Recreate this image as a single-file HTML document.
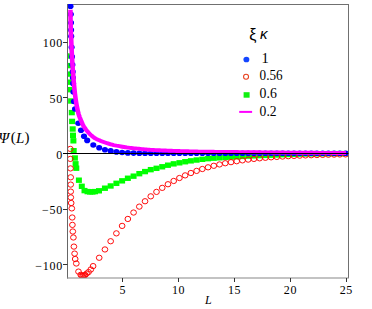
<!DOCTYPE html>
<html><head><meta charset="utf-8"><style>
html,body{margin:0;padding:0;background:#fff;width:372px;height:309px;overflow:hidden;}
svg{display:block;font-family:"Liberation Serif",serif;}
</style></head><body>
<svg width="372" height="309" viewBox="0 0 372 309">
<defs><clipPath id="c"><rect x="68" y="4" width="280.5" height="274"/></clipPath></defs>
<path d="M67.5 4.5H348.5V278" stroke="#707070" fill="none"/>
<g clip-path="url(#c)">
<rect x="67.6" y="53.3" width="6" height="5.4" fill="#00ff00"/>
<rect x="67.6" y="62.9" width="6" height="5.4" fill="#00ff00"/>
<rect x="67.7" y="71.4" width="6" height="5.4" fill="#00ff00"/>
<rect x="67.8" y="79.5" width="6" height="5.4" fill="#00ff00"/>
<rect x="67.9" y="87" width="6" height="5.4" fill="#00ff00"/>
<rect x="68.1" y="98.3" width="6" height="5.4" fill="#00ff00"/>
<rect x="68.8" y="109.9" width="6" height="5.4" fill="#00ff00"/>
<rect x="69.1" y="118.7" width="6" height="5.4" fill="#00ff00"/>
<rect x="69.7" y="126.3" width="6" height="5.4" fill="#00ff00"/>
<rect x="70" y="132.6" width="6" height="5.4" fill="#00ff00"/>
<rect x="70.4" y="138.1" width="6" height="5.4" fill="#00ff00"/>
<rect x="70.7" y="148" width="6" height="5.4" fill="#00ff00"/>
<rect x="71.9" y="155.3" width="6" height="5.4" fill="#00ff00"/>
<rect x="72.6" y="161.1" width="6" height="5.4" fill="#00ff00"/>
<rect x="73.3" y="165.5" width="6" height="5.4" fill="#00ff00"/>
<rect x="75.9" y="177.5" width="6" height="5.4" fill="#00ff00"/>
<rect x="78.8" y="183.6" width="6" height="5.4" fill="#00ff00"/>
<rect x="81.5" y="187.9" width="6" height="5.4" fill="#00ff00"/>
<rect x="84.5" y="188.9" width="6" height="5.4" fill="#00ff00"/>
<rect x="87" y="189.2" width="6" height="5.4" fill="#00ff00"/>
<rect x="89.5" y="189.2" width="6" height="5.4" fill="#00ff00"/>
<rect x="92" y="188.9" width="6" height="5.4" fill="#00ff00"/>
<rect x="96" y="188.1" width="6" height="5.4" fill="#00ff00"/>
<rect x="101.93" y="185.51" width="6" height="5.4" fill="#00ff00"/>
<rect x="107.66" y="183.27" width="6" height="5.4" fill="#00ff00"/>
<rect x="113.39" y="180.62" width="6" height="5.4" fill="#00ff00"/>
<rect x="119.12" y="178.14" width="6" height="5.4" fill="#00ff00"/>
<rect x="124.85" y="175.56" width="6" height="5.4" fill="#00ff00"/>
<rect x="130.58" y="173.47" width="6" height="5.4" fill="#00ff00"/>
<rect x="136.31" y="170.98" width="6" height="5.4" fill="#00ff00"/>
<rect x="142.04" y="168.89" width="6" height="5.4" fill="#00ff00"/>
<rect x="147.77" y="166.96" width="6" height="5.4" fill="#00ff00"/>
<rect x="153.5" y="165.62" width="6" height="5.4" fill="#00ff00"/>
<rect x="159.23" y="164.07" width="6" height="5.4" fill="#00ff00"/>
<rect x="164.96" y="162.51" width="6" height="5.4" fill="#00ff00"/>
<rect x="170.69" y="161.16" width="6" height="5.4" fill="#00ff00"/>
<rect x="176.42" y="160.11" width="6" height="5.4" fill="#00ff00"/>
<rect x="182.15" y="159.04" width="6" height="5.4" fill="#00ff00"/>
<rect x="187.88" y="158.15" width="6" height="5.4" fill="#00ff00"/>
<rect x="193.61" y="157.33" width="6" height="5.4" fill="#00ff00"/>
<rect x="199.34" y="156.6" width="6" height="5.4" fill="#00ff00"/>
<rect x="205.07" y="155.97" width="6" height="5.4" fill="#00ff00"/>
<rect x="210.8" y="155.47" width="6" height="5.4" fill="#00ff00"/>
<rect x="216.53" y="155.08" width="6" height="5.4" fill="#00ff00"/>
<rect x="222.26" y="154.73" width="6" height="5.4" fill="#00ff00"/>
<rect x="227.99" y="154.37" width="6" height="5.4" fill="#00ff00"/>
<rect x="233.72" y="154.01" width="6" height="5.4" fill="#00ff00"/>
<rect x="239.45" y="153.68" width="6" height="5.4" fill="#00ff00"/>
<rect x="245.18" y="153.4" width="6" height="5.4" fill="#00ff00"/>
<rect x="250.91" y="153.14" width="6" height="5.4" fill="#00ff00"/>
<rect x="256.64" y="152.9" width="6" height="5.4" fill="#00ff00"/>
<rect x="262.37" y="152.68" width="6" height="5.4" fill="#00ff00"/>
<rect x="268.1" y="152.46" width="6" height="5.4" fill="#00ff00"/>
<rect x="273.83" y="152.23" width="6" height="5.4" fill="#00ff00"/>
<rect x="279.56" y="152" width="6" height="5.4" fill="#00ff00"/>
<rect x="285.29" y="151.77" width="6" height="5.4" fill="#00ff00"/>
<rect x="291.02" y="151.57" width="6" height="5.4" fill="#00ff00"/>
<rect x="296.75" y="151.41" width="6" height="5.4" fill="#00ff00"/>
<rect x="302.48" y="151.29" width="6" height="5.4" fill="#00ff00"/>
<rect x="308.21" y="151.2" width="6" height="5.4" fill="#00ff00"/>
<rect x="313.94" y="151.12" width="6" height="5.4" fill="#00ff00"/>
<rect x="319.67" y="151.05" width="6" height="5.4" fill="#00ff00"/>
<rect x="325.4" y="150.99" width="6" height="5.4" fill="#00ff00"/>
<rect x="331.13" y="150.94" width="6" height="5.4" fill="#00ff00"/>
<rect x="336.86" y="150.91" width="6" height="5.4" fill="#00ff00"/>
<rect x="342.59" y="150.9" width="6" height="5.4" fill="#00ff00"/>
<ellipse cx="70.3" cy="148.9" rx="2.85" ry="2.65" fill="none" stroke="#ff0000" stroke-width="0.95"/>
<ellipse cx="70.3" cy="158.9" rx="2.85" ry="2.65" fill="none" stroke="#ff0000" stroke-width="0.95"/>
<ellipse cx="70.5" cy="168.4" rx="2.85" ry="2.65" fill="none" stroke="#ff0000" stroke-width="0.95"/>
<ellipse cx="70.7" cy="177.3" rx="2.85" ry="2.65" fill="none" stroke="#ff0000" stroke-width="0.95"/>
<ellipse cx="70.7" cy="184.6" rx="2.85" ry="2.65" fill="none" stroke="#ff0000" stroke-width="0.95"/>
<ellipse cx="70.7" cy="191.6" rx="2.85" ry="2.65" fill="none" stroke="#ff0000" stroke-width="0.95"/>
<ellipse cx="70.8" cy="197.4" rx="2.85" ry="2.65" fill="none" stroke="#ff0000" stroke-width="0.95"/>
<ellipse cx="71.2" cy="203" rx="2.85" ry="2.65" fill="none" stroke="#ff0000" stroke-width="0.95"/>
<ellipse cx="71.8" cy="208.4" rx="2.85" ry="2.65" fill="none" stroke="#ff0000" stroke-width="0.95"/>
<ellipse cx="72.2" cy="217.5" rx="2.85" ry="2.65" fill="none" stroke="#ff0000" stroke-width="0.95"/>
<ellipse cx="72.4" cy="224.9" rx="2.85" ry="2.65" fill="none" stroke="#ff0000" stroke-width="0.95"/>
<ellipse cx="72.8" cy="231.5" rx="2.85" ry="2.65" fill="none" stroke="#ff0000" stroke-width="0.95"/>
<ellipse cx="73.4" cy="237.5" rx="2.85" ry="2.65" fill="none" stroke="#ff0000" stroke-width="0.95"/>
<ellipse cx="73.9" cy="246.6" rx="2.85" ry="2.65" fill="none" stroke="#ff0000" stroke-width="0.95"/>
<ellipse cx="74.6" cy="253.6" rx="2.85" ry="2.65" fill="none" stroke="#ff0000" stroke-width="0.95"/>
<ellipse cx="75.2" cy="259" rx="2.85" ry="2.65" fill="none" stroke="#ff0000" stroke-width="0.95"/>
<ellipse cx="76.3" cy="263.5" rx="2.85" ry="2.65" fill="none" stroke="#ff0000" stroke-width="0.95"/>
<ellipse cx="78.5" cy="271.6" rx="2.85" ry="2.65" fill="none" stroke="#ff0000" stroke-width="0.95"/>
<ellipse cx="80.7" cy="274.8" rx="2.85" ry="2.65" fill="none" stroke="#ff0000" stroke-width="0.95"/>
<ellipse cx="81.7" cy="275.6" rx="2.85" ry="2.65" fill="none" stroke="#ff0000" stroke-width="0.95"/>
<ellipse cx="82.9" cy="275.9" rx="2.85" ry="2.65" fill="none" stroke="#ff0000" stroke-width="0.95"/>
<ellipse cx="84.1" cy="275.6" rx="2.85" ry="2.65" fill="none" stroke="#ff0000" stroke-width="0.95"/>
<ellipse cx="85.2" cy="274.9" rx="2.85" ry="2.65" fill="none" stroke="#ff0000" stroke-width="0.95"/>
<ellipse cx="86.6" cy="273.6" rx="2.85" ry="2.65" fill="none" stroke="#ff0000" stroke-width="0.95"/>
<ellipse cx="88.5" cy="272.1" rx="2.85" ry="2.65" fill="none" stroke="#ff0000" stroke-width="0.95"/>
<ellipse cx="90.8" cy="269.5" rx="2.85" ry="2.65" fill="none" stroke="#ff0000" stroke-width="0.95"/>
<ellipse cx="93.1" cy="266.1" rx="2.85" ry="2.65" fill="none" stroke="#ff0000" stroke-width="0.95"/>
<ellipse cx="99.2" cy="257.77" rx="2.85" ry="2.65" fill="none" stroke="#ff0000" stroke-width="0.95"/>
<ellipse cx="104.93" cy="249.45" rx="2.85" ry="2.65" fill="none" stroke="#ff0000" stroke-width="0.95"/>
<ellipse cx="110.66" cy="241.23" rx="2.85" ry="2.65" fill="none" stroke="#ff0000" stroke-width="0.95"/>
<ellipse cx="116.39" cy="233.35" rx="2.85" ry="2.65" fill="none" stroke="#ff0000" stroke-width="0.95"/>
<ellipse cx="122.12" cy="225.9" rx="2.85" ry="2.65" fill="none" stroke="#ff0000" stroke-width="0.95"/>
<ellipse cx="127.85" cy="218.95" rx="2.85" ry="2.65" fill="none" stroke="#ff0000" stroke-width="0.95"/>
<ellipse cx="133.58" cy="212.53" rx="2.85" ry="2.65" fill="none" stroke="#ff0000" stroke-width="0.95"/>
<ellipse cx="139.31" cy="206.63" rx="2.85" ry="2.65" fill="none" stroke="#ff0000" stroke-width="0.95"/>
<ellipse cx="145.04" cy="201.24" rx="2.85" ry="2.65" fill="none" stroke="#ff0000" stroke-width="0.95"/>
<ellipse cx="150.77" cy="196.34" rx="2.85" ry="2.65" fill="none" stroke="#ff0000" stroke-width="0.95"/>
<ellipse cx="156.5" cy="191.89" rx="2.85" ry="2.65" fill="none" stroke="#ff0000" stroke-width="0.95"/>
<ellipse cx="162.23" cy="187.86" rx="2.85" ry="2.65" fill="none" stroke="#ff0000" stroke-width="0.95"/>
<ellipse cx="167.96" cy="184.23" rx="2.85" ry="2.65" fill="none" stroke="#ff0000" stroke-width="0.95"/>
<ellipse cx="173.69" cy="180.96" rx="2.85" ry="2.65" fill="none" stroke="#ff0000" stroke-width="0.95"/>
<ellipse cx="179.42" cy="178.02" rx="2.85" ry="2.65" fill="none" stroke="#ff0000" stroke-width="0.95"/>
<ellipse cx="185.15" cy="175.38" rx="2.85" ry="2.65" fill="none" stroke="#ff0000" stroke-width="0.95"/>
<ellipse cx="190.88" cy="173.01" rx="2.85" ry="2.65" fill="none" stroke="#ff0000" stroke-width="0.95"/>
<ellipse cx="196.61" cy="170.9" rx="2.85" ry="2.65" fill="none" stroke="#ff0000" stroke-width="0.95"/>
<ellipse cx="202.34" cy="169" rx="2.85" ry="2.65" fill="none" stroke="#ff0000" stroke-width="0.95"/>
<ellipse cx="208.07" cy="167.31" rx="2.85" ry="2.65" fill="none" stroke="#ff0000" stroke-width="0.95"/>
<ellipse cx="213.8" cy="165.79" rx="2.85" ry="2.65" fill="none" stroke="#ff0000" stroke-width="0.95"/>
<ellipse cx="219.53" cy="164.44" rx="2.85" ry="2.65" fill="none" stroke="#ff0000" stroke-width="0.95"/>
<ellipse cx="225.26" cy="163.24" rx="2.85" ry="2.65" fill="none" stroke="#ff0000" stroke-width="0.95"/>
<ellipse cx="230.99" cy="162.17" rx="2.85" ry="2.65" fill="none" stroke="#ff0000" stroke-width="0.95"/>
<ellipse cx="236.72" cy="161.21" rx="2.85" ry="2.65" fill="none" stroke="#ff0000" stroke-width="0.95"/>
<ellipse cx="242.45" cy="160.36" rx="2.85" ry="2.65" fill="none" stroke="#ff0000" stroke-width="0.95"/>
<ellipse cx="248.18" cy="159.6" rx="2.85" ry="2.65" fill="none" stroke="#ff0000" stroke-width="0.95"/>
<ellipse cx="253.91" cy="158.93" rx="2.85" ry="2.65" fill="none" stroke="#ff0000" stroke-width="0.95"/>
<ellipse cx="259.64" cy="158.33" rx="2.85" ry="2.65" fill="none" stroke="#ff0000" stroke-width="0.95"/>
<ellipse cx="265.37" cy="157.8" rx="2.85" ry="2.65" fill="none" stroke="#ff0000" stroke-width="0.95"/>
<ellipse cx="271.1" cy="157.32" rx="2.85" ry="2.65" fill="none" stroke="#ff0000" stroke-width="0.95"/>
<ellipse cx="276.83" cy="156.91" rx="2.85" ry="2.65" fill="none" stroke="#ff0000" stroke-width="0.95"/>
<ellipse cx="282.56" cy="156.53" rx="2.85" ry="2.65" fill="none" stroke="#ff0000" stroke-width="0.95"/>
<ellipse cx="288.29" cy="156.2" rx="2.85" ry="2.65" fill="none" stroke="#ff0000" stroke-width="0.95"/>
<ellipse cx="294.02" cy="155.91" rx="2.85" ry="2.65" fill="none" stroke="#ff0000" stroke-width="0.95"/>
<ellipse cx="299.75" cy="155.65" rx="2.85" ry="2.65" fill="none" stroke="#ff0000" stroke-width="0.95"/>
<ellipse cx="305.48" cy="155.42" rx="2.85" ry="2.65" fill="none" stroke="#ff0000" stroke-width="0.95"/>
<ellipse cx="311.21" cy="155.21" rx="2.85" ry="2.65" fill="none" stroke="#ff0000" stroke-width="0.95"/>
<ellipse cx="316.94" cy="155.03" rx="2.85" ry="2.65" fill="none" stroke="#ff0000" stroke-width="0.95"/>
<ellipse cx="322.67" cy="154.87" rx="2.85" ry="2.65" fill="none" stroke="#ff0000" stroke-width="0.95"/>
<ellipse cx="328.4" cy="154.73" rx="2.85" ry="2.65" fill="none" stroke="#ff0000" stroke-width="0.95"/>
<ellipse cx="334.13" cy="154.6" rx="2.85" ry="2.65" fill="none" stroke="#ff0000" stroke-width="0.95"/>
<ellipse cx="339.86" cy="154.49" rx="2.85" ry="2.65" fill="none" stroke="#ff0000" stroke-width="0.95"/>
<ellipse cx="345.59" cy="154.39" rx="2.85" ry="2.65" fill="none" stroke="#ff0000" stroke-width="0.95"/>
<ellipse cx="70.5" cy="6.3" rx="3.05" ry="2.8" fill="#0000ff"/>
<ellipse cx="70.8" cy="14.3" rx="3.05" ry="2.8" fill="#0000ff"/>
<ellipse cx="71" cy="22.8" rx="3.05" ry="2.8" fill="#0000ff"/>
<ellipse cx="71.1" cy="30.1" rx="3.05" ry="2.8" fill="#0000ff"/>
<ellipse cx="71.2" cy="36.2" rx="3.05" ry="2.8" fill="#0000ff"/>
<ellipse cx="71.6" cy="47.3" rx="3.05" ry="2.8" fill="#0000ff"/>
<ellipse cx="72" cy="56.8" rx="3.05" ry="2.8" fill="#0000ff"/>
<ellipse cx="72.4" cy="64.8" rx="3.05" ry="2.8" fill="#0000ff"/>
<ellipse cx="72.7" cy="71.7" rx="3.05" ry="2.8" fill="#0000ff"/>
<ellipse cx="72.9" cy="77.8" rx="3.05" ry="2.8" fill="#0000ff"/>
<ellipse cx="73.1" cy="83.4" rx="3.05" ry="2.8" fill="#0000ff"/>
<ellipse cx="73.4" cy="92" rx="3.05" ry="2.8" fill="#0000ff"/>
<ellipse cx="73.9" cy="101.5" rx="3.05" ry="2.8" fill="#0000ff"/>
<ellipse cx="75" cy="109" rx="3.05" ry="2.8" fill="#0000ff"/>
<ellipse cx="78.3" cy="123.2" rx="3.05" ry="2.8" fill="#0000ff"/>
<ellipse cx="81" cy="130.3" rx="3.05" ry="2.8" fill="#0000ff"/>
<ellipse cx="84" cy="136.3" rx="3.05" ry="2.8" fill="#0000ff"/>
<ellipse cx="87.2" cy="140.4" rx="3.05" ry="2.8" fill="#0000ff"/>
<ellipse cx="93.3" cy="145" rx="3.05" ry="2.8" fill="#0000ff"/>
<ellipse cx="99.2" cy="147.7" rx="3.05" ry="2.8" fill="#0000ff"/>
<ellipse cx="104.93" cy="149.7" rx="3.05" ry="2.8" fill="#0000ff"/>
<ellipse cx="110.66" cy="150.9" rx="3.05" ry="2.8" fill="#0000ff"/>
<ellipse cx="116.39" cy="151.9" rx="3.05" ry="2.8" fill="#0000ff"/>
<ellipse cx="122.12" cy="152.5" rx="3.05" ry="2.8" fill="#0000ff"/>
<ellipse cx="127.85" cy="152.9" rx="3.05" ry="2.8" fill="#0000ff"/>
<ellipse cx="133.58" cy="153.1" rx="3.05" ry="2.8" fill="#0000ff"/>
<ellipse cx="139.31" cy="153.2" rx="3.05" ry="2.8" fill="#0000ff"/>
<ellipse cx="145.04" cy="153.2" rx="3.05" ry="2.8" fill="#0000ff"/>
<ellipse cx="150.77" cy="153.2" rx="3.05" ry="2.8" fill="#0000ff"/>
<ellipse cx="156.5" cy="153.2" rx="3.05" ry="2.8" fill="#0000ff"/>
<ellipse cx="162.23" cy="153.2" rx="3.05" ry="2.8" fill="#0000ff"/>
<ellipse cx="167.96" cy="153.2" rx="3.05" ry="2.8" fill="#0000ff"/>
<ellipse cx="173.69" cy="153.2" rx="3.05" ry="2.8" fill="#0000ff"/>
<ellipse cx="179.42" cy="153.2" rx="3.05" ry="2.8" fill="#0000ff"/>
<ellipse cx="185.15" cy="153.2" rx="3.05" ry="2.8" fill="#0000ff"/>
<ellipse cx="190.88" cy="153.2" rx="3.05" ry="2.8" fill="#0000ff"/>
<ellipse cx="196.61" cy="153.2" rx="3.05" ry="2.8" fill="#0000ff"/>
<ellipse cx="202.34" cy="153.2" rx="3.05" ry="2.8" fill="#0000ff"/>
<ellipse cx="208.07" cy="153.2" rx="3.05" ry="2.8" fill="#0000ff"/>
<ellipse cx="213.8" cy="153.2" rx="3.05" ry="2.8" fill="#0000ff"/>
<ellipse cx="219.53" cy="153.2" rx="3.05" ry="2.8" fill="#0000ff"/>
<ellipse cx="225.26" cy="153.2" rx="3.05" ry="2.8" fill="#0000ff"/>
<ellipse cx="230.99" cy="153.2" rx="3.05" ry="2.8" fill="#0000ff"/>
<ellipse cx="236.72" cy="153.2" rx="3.05" ry="2.8" fill="#0000ff"/>
<ellipse cx="242.45" cy="153.2" rx="3.05" ry="2.8" fill="#0000ff"/>
<ellipse cx="248.18" cy="153.2" rx="3.05" ry="2.8" fill="#0000ff"/>
<ellipse cx="253.91" cy="153.2" rx="3.05" ry="2.8" fill="#0000ff"/>
<ellipse cx="259.64" cy="153.2" rx="3.05" ry="2.8" fill="#0000ff"/>
<ellipse cx="265.37" cy="153.2" rx="3.05" ry="2.8" fill="#0000ff"/>
<ellipse cx="271.1" cy="153.2" rx="3.05" ry="2.8" fill="#0000ff"/>
<ellipse cx="276.83" cy="153.2" rx="3.05" ry="2.8" fill="#0000ff"/>
<ellipse cx="282.56" cy="153.2" rx="3.05" ry="2.8" fill="#0000ff"/>
<ellipse cx="288.29" cy="153.2" rx="3.05" ry="2.8" fill="#0000ff"/>
<ellipse cx="294.02" cy="153.2" rx="3.05" ry="2.8" fill="#0000ff"/>
<ellipse cx="299.75" cy="153.2" rx="3.05" ry="2.8" fill="#0000ff"/>
<ellipse cx="305.48" cy="153.2" rx="3.05" ry="2.8" fill="#0000ff"/>
<ellipse cx="311.21" cy="153.2" rx="3.05" ry="2.8" fill="#0000ff"/>
<ellipse cx="316.94" cy="153.2" rx="3.05" ry="2.8" fill="#0000ff"/>
<ellipse cx="322.67" cy="153.2" rx="3.05" ry="2.8" fill="#0000ff"/>
<ellipse cx="328.4" cy="153.2" rx="3.05" ry="2.8" fill="#0000ff"/>
<ellipse cx="334.13" cy="153.2" rx="3.05" ry="2.8" fill="#0000ff"/>
<ellipse cx="339.86" cy="153.2" rx="3.05" ry="2.8" fill="#0000ff"/>
<ellipse cx="345.59" cy="153.2" rx="3.05" ry="2.8" fill="#0000ff"/>
<g transform="scale(1.17,1)"><polyline fill="none" stroke="#ff00ff" stroke-width="3.9" stroke-linejoin="round" stroke-linecap="butt" points="60.21,9.7 60.22,11.2 60.23,12.7 60.24,14.2 60.25,15.7 60.27,17.2 60.29,18.7 60.31,20.2 60.34,21.7 60.36,23.2 60.4,24.7 60.43,26.2 60.46,27.7 60.5,29.2 60.55,30.7 60.6,32.19 60.65,33.69 60.71,35.19 60.77,36.69 60.83,38.19 60.89,39.69 60.94,41.19 60.99,42.68 61.04,44.18 61.09,45.68 61.14,47.18 61.19,48.68 61.25,50.18 61.31,51.68 61.37,53.17 61.44,54.67 61.51,56.17 61.58,57.67 61.65,59.17 61.73,60.66 61.8,62.16 61.88,63.66 61.97,65.15 62.06,66.65 62.15,68.15 62.24,69.64 62.34,71.14 62.43,72.63 62.53,74.13 62.63,75.63 62.73,77.12 62.83,78.62 62.94,80.11 63.05,81.61 63.16,83.1 63.28,84.59 63.4,86.09 63.52,87.58 63.64,89.08 63.77,90.57 63.91,92.07 64.05,93.56 64.2,95.04 64.36,96.53 64.53,98.01 64.71,99.5 64.9,100.98 65.1,102.47 65.32,103.96 65.55,105.44 65.79,106.92 66.04,108.39 66.31,109.86 66.6,111.32 66.91,112.77 67.23,114.21 67.6,115.63 68.03,117.05 68.51,118.45 69,119.84 69.49,121.23 70,122.61 70.53,123.99 71.1,125.34 71.71,126.64 72.39,127.89 73.15,129.11 73.96,130.29 74.79,131.44 75.64,132.56 76.51,133.66 77.42,134.73 78.37,135.74 79.36,136.68 80.39,137.58 81.47,138.41 82.58,139.13 83.75,139.76 84.94,140.34 86.12,140.91 87.32,141.46 88.52,141.99 89.72,142.49 90.94,142.98 92.16,143.44 93.38,143.88 94.61,144.3 95.85,144.7 97.09,145.08 98.34,145.41 99.6,145.7 100.86,145.96 102.13,146.21 103.39,146.47 104.65,146.72 105.92,146.98 107.18,147.22 108.45,147.45 109.72,147.65 110.99,147.83 112.26,148.01 113.54,148.18 114.81,148.34 116.09,148.49 117.36,148.64 118.64,148.78 119.92,148.93 121.19,149.08 122.47,149.23 123.75,149.37 125.02,149.51 126.3,149.64 127.58,149.75 128.86,149.85 130.13,149.94 131.41,150.02 132.69,150.1 133.97,150.18 135.26,150.25 136.54,150.32 137.82,150.38 139.1,150.45 140.38,150.51 141.66,150.57 142.94,150.62 144.22,150.68 145.51,150.73 146.79,150.79 148.07,150.84 149.35,150.89 150.63,150.94 151.91,150.99 153.19,151.04 154.48,151.09 155.76,151.14 157.04,151.19 158.32,151.23 159.6,151.28 160.88,151.32 162.16,151.37 163.45,151.41 164.73,151.44 166.01,151.48 167.29,151.51 168.57,151.55 169.85,151.58 171.14,151.6 172.42,151.63 173.7,151.65 174.98,151.68 176.26,151.7 177.55,151.72 178.83,151.75 180.11,151.77 181.39,151.79 182.67,151.81 183.95,151.83 185.24,151.85 186.52,151.86 187.8,151.88 189.08,151.9 190.36,151.92 191.65,151.93 192.93,151.95 194.21,151.97 195.49,151.98 196.77,152 198.06,152.01 199.34,152.03 200.62,152.04 201.9,152.06 203.18,152.07 204.47,152.09 205.75,152.1 207.03,152.12 208.31,152.13 209.59,152.15 210.88,152.16 212.16,152.18 213.44,152.2 214.72,152.21 216,152.23 217.29,152.25 218.57,152.26 219.85,152.28 221.13,152.3 222.41,152.31 223.7,152.33 224.98,152.34 226.26,152.36 227.54,152.38 228.82,152.39 230.11,152.41 231.39,152.42 232.67,152.44 233.95,152.46 235.23,152.47 236.52,152.49 237.8,152.5 239.08,152.52 240.36,152.53 241.64,152.55 242.93,152.56 244.21,152.58 245.49,152.59 246.77,152.6 248.05,152.62 249.34,152.63 250.62,152.64 251.9,152.66 253.18,152.67 254.46,152.68 255.75,152.69 257.03,152.71 258.31,152.72 259.59,152.73 260.87,152.74 262.16,152.75 263.44,152.76 264.72,152.77 266,152.79 267.28,152.8 268.57,152.81 269.85,152.82 271.13,152.83 272.41,152.84 273.69,152.85 274.98,152.86 276.26,152.87 277.54,152.88 278.82,152.89 280.1,152.9 281.39,152.91 282.67,152.92 283.95,152.93 285.23,152.93 286.51,152.94 287.8,152.95 289.08,152.96 290.36,152.97 291.64,152.98 292.93,152.98 294.21,152.99 295.49,153 295.73,153"/></g>
</g>
<g fill="none" stroke-width="1">
<path d="M348.5 4V278" stroke="#707070"/>
<path d="M67.5 4V278.5" stroke="#666"/>
<path d="M67 278H349" stroke="#888" stroke-width="1.2"/>
<path d="M63 153.5H348.5" stroke="#000"/>
<path d="M63 42.5H67.5" stroke="#333"/>
<path d="M63 97.5H67.5" stroke="#333"/>
<path d="M63 209.5H67.5" stroke="#333"/>
<path d="M63 264.5H67.5" stroke="#333"/>
<path d="M122.5 278V282" stroke="#333"/>
<path d="M178.5 278V282" stroke="#333"/>
<path d="M234.5 278V282" stroke="#333"/>
<path d="M290.5 278V282" stroke="#333"/>
<path d="M346.5 278V282" stroke="#333"/>
</g>
<g font-family="Liberation Serif" font-size="12" fill="#000">
<text x="62.9" y="47.2" text-anchor="end" letter-spacing="0.7">100</text>
<text x="62.9" y="102.9" text-anchor="end" letter-spacing="0.7">50</text>
<text x="62.9" y="158.6" text-anchor="end" letter-spacing="0.7">0</text>
<text x="62.9" y="214.3" text-anchor="end" letter-spacing="0.7">&#8722;50</text>
<text x="62.9" y="270" text-anchor="end" letter-spacing="0.7">&#8722;100</text>
<text x="122.7" y="293.8" text-anchor="middle" letter-spacing="0.6">5</text>
<text x="178.6" y="293.8" text-anchor="middle" letter-spacing="0.6">10</text>
<text x="234.5" y="293.8" text-anchor="middle" letter-spacing="0.6">15</text>
<text x="290.4" y="293.8" text-anchor="middle" letter-spacing="0.6">20</text>
<text x="346.3" y="293.8" text-anchor="middle" letter-spacing="0.6">25</text>
</g>
<text x="205" y="303.5" font-family="Liberation Serif" font-style="italic" font-size="12">L</text>
<g font-family="Liberation Serif" font-size="15">
<text x="-1.6" y="142.6" font-style="italic">&#936;</text>
<text x="10.8" y="142.3">(</text>
<text x="16" y="142.6" font-style="italic">L</text>
<text x="24.4" y="142.3">)</text>
</g>
<text x="249.3" y="39.8" font-family="Liberation Sans" font-size="16">&#958;</text>
<text x="260" y="39" font-family="Liberation Sans" font-size="15" font-style="italic">&#954;</text>
<ellipse cx="246.4" cy="59.5" rx="2.95" ry="2.85" fill="#1446ff"/>
<circle cx="246.05" cy="76.8" r="2.5" fill="none" stroke="#e8401e" stroke-width="1.1"/>
<rect x="243.6" y="92.2" width="6" height="5.5" fill="#10f010"/>
<path d="M239.2 111.9H252.1" stroke="#ff00ff" stroke-width="2"/>
<g font-family="Liberation Serif" font-size="14.5">
<text x="261.6" y="62.8">1</text>
<text x="259.6" y="79.6" textLength="23" lengthAdjust="spacingAndGlyphs">0.56</text>
<text x="259.6" y="97.8" textLength="17.2" lengthAdjust="spacingAndGlyphs">0.6</text>
<text x="259.6" y="116.1" textLength="17" lengthAdjust="spacingAndGlyphs">0.2</text>
</g>
</svg>
</body></html>
